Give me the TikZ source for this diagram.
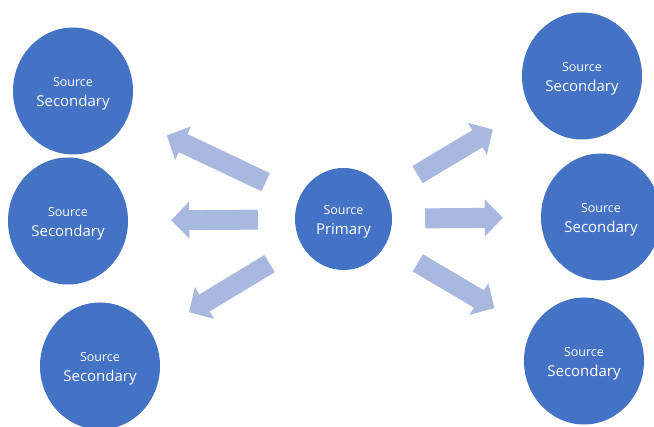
\documentclass[tikz,border=0pt]{standalone}
\usepackage{fontspec}
\setmainfont{Open Sans}
\usetikzlibrary{arrows.meta,positioning,shapes.geometric}
\definecolor{srcblue}{HTML}{4472C4}
\definecolor{flowblue}{HTML}{A9B8DE}
\newcommand{\srclabel}[1]{{\fontsize{12.5}{20}\selectfont\rule{0pt}{15pt}Source}\\#1}

\begin{document}
\begin{tikzpicture}[x=1pt,y=-1pt,
  src/.style={ellipse,fill=srcblue,text=white,inner sep=0pt,
    minimum width=120pt,minimum height=127pt,align=center,
    font=\fontsize{15}{20}\selectfont},
  flow/.style={draw=flowblue,line width=20pt,
    -{Triangle[length=18pt,width=36pt]},shorten <=37pt,shorten >=43pt}]
  \useasboundingbox (0,0) rectangle (654,427);
  % primary source
  \node[src,minimum width=97pt,minimum height=102pt] (prim) at (343.5,219)
    {\srclabel{Primary}};
  % secondary sources
  \foreach \name/\x/\y in {tl/73/91,ml/68/221,bl/100/366,tr/582/76,mr/601/217,br/584/361} {
    \node[src] (\name) at (\x,\y) {\srclabel{Secondary}};
  }
  % arrows out of the primary
  \foreach \name in {tl,ml,bl,tr,br}
    \draw[flow] (prim) -- (\name);
  \draw[flow,shorten <=33pt,shorten >=38pt] (prim) -- (mr);
\end{tikzpicture}
\end{document}
